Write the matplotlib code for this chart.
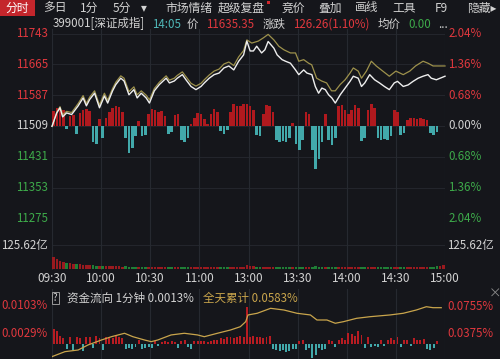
import numpy as np
import matplotlib.pyplot as plt
from matplotlib.patches import Rectangle

plt.rcParams['font.family'] = ['Noto Sans CJK SC', 'DejaVu Sans']

# ---- 数据 ----
prev_close = 11509.09
price_ticks = [11743, 11665, 11587, 11509, 11431, 11353, 11275]
pct_labels = ['2.04%', '1.36%', '0.68%', '0.00%', '0.68%', '1.36%', '2.04%']
time_pos = [0, 30, 60, 90, 120, 150, 180, 210, 240]
time_labels = ['09:30', '10:00', '10:30', '11:00', '13:00', '13:30', '14:00', '14:30', '15:00']

# 指数 (白线), 分钟数从 09:30 起
white_min = [0, 2.9, 4.9, 6.5, 8.9, 12, 16, 19, 21, 23, 26, 29, 32, 34, 37, 39, 42, 44, 47, 50,
             52, 54.5, 57.5, 59.5, 62.5, 65.6, 69.7, 71.7, 74.7, 76.5, 79.6, 81.8, 84.9, 87.9, 91,
             93, 96, 99, 102, 105, 108, 111, 114, 117, 119, 121, 123, 125, 128, 130, 132, 135.5,
             137.5, 140.5, 142.6, 145.6, 148.7, 150.7, 153.7, 155.7, 158.7, 160.8, 162.8, 164.8,
             166.9, 168.9, 170.9, 173, 176, 179, 182, 184, 187, 189, 191, 194, 197, 200, 203, 206,
             209, 211, 214.5, 217.5, 220.5, 223.6, 226.6, 229.6, 231.6, 234.7, 240]
white_px = [11508, 11542, 11555, 11532, 11542, 11538, 11560, 11580, 11560, 11576, 11592, 11555,
            11585, 11567, 11598, 11614, 11630, 11623, 11588, 11601, 11580, 11592, 11580, 11567,
            11598, 11614, 11630, 11618, 11623, 11630, 11639, 11626, 11609, 11601, 11609, 11618,
            11630, 11639, 11643, 11656, 11661, 11651, 11673, 11689, 11724, 11699, 11699, 11711,
            11694, 11702, 11723, 11706, 11689, 11677, 11673, 11668, 11651, 11639, 11651, 11643,
            11639, 11609, 11592, 11605, 11601, 11588, 11580, 11567, 11588, 11605, 11622, 11635,
            11630, 11609, 11618, 11639, 11626, 11618, 11609, 11601, 11618, 11622, 11609, 11613,
            11622, 11630, 11635, 11639, 11630, 11626, 11635]

# 不加权 (黄线)
yel_min = [0, 2.9, 4.9, 6.5, 8.9, 12, 16, 19, 21, 23, 26, 29, 32, 34, 37, 39, 42, 44, 47, 50,
           52, 54.5, 57.5, 59.5, 62.5, 65.6, 69.7, 71.7, 74.7, 76.5, 79.6, 81.8, 84.9, 87.9, 91,
           93, 96, 99, 102, 105, 108, 111, 114, 117, 119, 122, 126, 129, 132, 135.5, 138.5, 141.6,
           145.6, 148.7, 150.7, 153.7, 156.7, 158.6, 161.6, 164.6, 167.7, 170.7, 173, 176, 179,
           182, 184, 187, 189, 192, 195, 198, 202, 206, 210, 214.5, 218.5, 222, 226.6, 229.6,
           232.7, 240]
yel_px = [11508, 11544, 11558, 11537, 11546, 11543, 11566, 11586, 11566, 11582, 11598, 11562,
          11592, 11574, 11604, 11620, 11636, 11630, 11596, 11608, 11588, 11598, 11587, 11575,
          11604, 11620, 11636, 11625, 11630, 11637, 11646, 11634, 11617, 11610, 11617, 11626,
          11638, 11648, 11653, 11666, 11671, 11662, 11684, 11700, 11727, 11719, 11724, 11732,
          11741, 11727, 11711, 11702, 11694, 11694, 11673, 11677, 11668, 11664, 11630, 11623,
          11618, 11598, 11598, 11614, 11626, 11643, 11656, 11648, 11630, 11648, 11673, 11661,
          11648, 11635, 11648, 11639, 11648, 11661, 11673, 11668, 11661, 11661]

# 红绿柱 (每2分钟), 指数点
force = [38, 45, 45, 40, -8, 25, 28, -20, 32, 40, 42, 38, -40, -45, 18, -30, 20, 35, 45, 50,
         48, 35, -30, -68, -55, -25, 12, -25, -22, 30, 42, 40, 35, 38, 25, -20, -15, 28, 30, -35,
         -42, -30, 5, 20, 32, 30, 18, 5, 30, 42, 35, -12, -20, -10, 35, 55, 50, 50, 55, 55,
         50, 40, -22, -25, 30, 52, 50, 35, -35, -42, -38, -40, -30, 8, -45, -60, -35, 35, 30, -60,
         -110, -85, -40, 30, -35, -48, -30, 50, 52, 40, 30, 40, 52, 45, -38, -30, 40, 55, 45, -30,
         -35, -32, -35, -25, 40, 35, -22, -18, 15, 20, 20, 18, 20, 18, 15, -18, -22, -15, 0, 0]

# 成交额 (每2分钟, 亿)
volume = [62, 50, 44, 38, 33, 30, 28, 26, 24, 22, 20, 21, 19, 18, 17, 18, 16, 15, 16, 14,
          15, 13, 14, 12, 13, 12, 11, 12, 11, 10, 11, 10, 12, 10, 9, 10, 11, 9, 10, 9,
          9, 10, 8, 9, 10, 9, 8, 9, 10, 9, 8, 9, 10, 9, 11, 12, 10, 11, 12, 20,
          16, 14, 12, 13, 11, 12, 10, 11, 10, 9, 10, 9, 10, 11, 9, 10, 12, 9, 10, 13,
          14, 11, 10, 9, 10, 9, 8, 10, 9, 9, 8, 9, 10, 8, 9, 8, 9, 10, 8, 9,
          8, 9, 8, 9, 10, 9, 8, 9, 8, 9, 9, 10, 9, 10, 11, 10, 12, 14, 18, 22]
vol_max = 125.62

# 资金流向 1分钟 (单位 0.0001%)
flow = [40, 35, 22, 15, -12, 18, -15, 20, 15, -18, 18, 20, -10, 22, 15, -15, 18, 20, 15, 22,
        18, 15, -12, -10, -14, -8, 10, -12, -10, -8, -10, 8, -6, 5, 8, 6, 8, 6, -10, 8,
        10, -8, -12, 8, 7, 9, 8, 6, 8, 10, 12, 15, 14, 18, 20, 15, 18, 22, 20, 100,
        20, 22, 18, 20, 15, 18, 22, -12, -15, -18, -16, -20, -18, -14, -12, 8, 10, -15, -10, -38,
        -30, -10, -15, -12, 10, 8, -8, 12, 15, 10, 30, 28, 22, 35, 25, -10, 18, -8, -6, -8,
        10, -6, 12, 15, 10, 18, -8, 10, 12, -6, 15, 12, 10, 14, -12, -15, -10, 8, 0, 0]
flow_ticks = [103, 29]
flow_tick_labels = ['0.0103%', '0.0029%']

# 全天累计 (%)
cum_min = [0, 7.9, 16, 22, 30.2, 36.3, 44.3, 49.4, 56.5, 60.6, 64.6, 72.7, 80.8, 88.9, 93, 101,
           109, 115, 118.3, 119.7, 125.3, 133.5, 141.6, 149.6, 157.8, 161.8, 167.9, 173, 178,
           186, 194.2, 206.4, 214.5, 222.5, 228.6, 232.7, 237.7]
cum_val = [0.0041, 0.0112, 0.0136, 0.0208, 0.0279, 0.0326, 0.0375, 0.0326, 0.0279, 0.0255,
           0.0279, 0.0351, 0.0375, 0.0351, 0.0326, 0.0375, 0.0422, 0.0469, 0.0541, 0.0637,
           0.0661, 0.0732, 0.0708, 0.0661, 0.0637, 0.0565, 0.0565, 0.0518, 0.0541, 0.0589,
           0.0612, 0.0637, 0.0661, 0.0708, 0.0755, 0.0741, 0.0741]
cum_ticks = [0.0755, 0.0375]
cum_tick_labels = ['0.0755%', '0.0375%']

# ---- 颜色 ----
BG = '#15161b'
GRID = '#262930'
RED = '#e0383e'
GREEN = '#3daa4a'
BAR_RED = '#b0191e'
BAR_TEAL = '#42a9ab'
TXT = '#d2d2d2'
GOLD = '#c9a54c'

W, H = 500, 359


def rect(x0, y0, x1, y1):
    return [x0 / W, 1 - y1 / H, (x1 - x0) / W, (y1 - y0) / H]


def ftext(x, y, s, **kw):
    kw.setdefault('color', TXT)
    kw.setdefault('fontsize', 8.3)
    kw.setdefault('va', 'center')
    fig.text(x / W, 1 - y / H, s, **kw)


def clean(ax):
    ax.set_facecolor('none')
    for sp in ax.spines.values():
        sp.set_visible(False)
    ax.set_xticks([])
    ax.set_yticks([])
    ax.set_xlim(0, 240)


fig = plt.figure(figsize=(5, 3.59), dpi=100, facecolor=BG)

# 竖网格
ax_g = fig.add_axes(rect(52, 29, 445, 270))
clean(ax_g)
ax_g2 = fig.add_axes(rect(52, 289, 445, 359))
clean(ax_g2)
for t in time_pos:
    ax_g.axvline(t, color=GRID, lw=0.8)
    ax_g2.axvline(t, color=GRID, lw=0.8)

# 主图
ax = fig.add_axes(rect(52, 33.6, 445, 218.3))
clean(ax)
ax.set_ylim(price_ticks[-1], price_ticks[0])
for p in price_ticks:
    ax.axhline(p, color=GRID, lw=0.6, zorder=0)
centers = np.arange(len(force)) * 2 + 1
force = np.array(force)
ax.bar(centers, force, width=1.6, bottom=prev_close,
       color=np.where(force >= 0, BAR_RED, BAR_TEAL), linewidth=0, zorder=1)
ax.plot(yel_min, yel_px, color='#9d914c', lw=0.9, zorder=2, clip_on=False)
ax.plot(white_min, white_px, color='#eeeeee', lw=1.0, zorder=3, clip_on=False)

ytr = ax.get_yaxis_transform()
for i, p in enumerate(price_ticks):
    c = RED if p > 11509 else (GREEN if p < 11509 else TXT)
    ax.text(-0.011, p, str(p), transform=ytr, ha='right', va='center', color=c, fontsize=8.3)
    ax.text(1.008, p, pct_labels[i], transform=ytr, ha='left', va='center', color=c, fontsize=8.3)

# 成交量
ax_v = fig.add_axes(rect(52, 245, 445, 269))
clean(ax_v)
ax_v.set_ylim(0, vol_max)
ax_v.axhline(vol_max, color=GRID, lw=0.6)
ax_v.bar(centers, volume, width=1.6, color=np.where(force >= 0, '#9a1a1f', '#1f7f36'), linewidth=0)
vtr = ax_v.get_yaxis_transform()
ax_v.text(-0.011, vol_max, '125.62亿', transform=vtr, ha='right', va='center', color=TXT, fontsize=8.3)
ax_v.text(1.005, vol_max, '125.62亿', transform=vtr, ha='left', va='center', color=TXT, fontsize=8.3)
xtr = ax_v.get_xaxis_transform()
for t, lab in zip(time_pos, time_labels):
    ax_v.text(t, -0.38, lab, transform=xtr, ha='center', va='center', color=TXT, fontsize=8.5)

# 资金流向
ax_f = fig.add_axes(rect(52, 290, 445, 359))
clean(ax_f)
ax_f.set_ylim(-40, 145)
flow = np.array(flow)
ax_f.bar(centers, flow, width=1.2, color=np.where(flow >= 0, '#b81c22', BAR_TEAL), linewidth=0)
ftr = ax_f.get_yaxis_transform()
for v, lab in zip(flow_ticks, flow_tick_labels):
    ax_f.text(-0.011, v, lab, transform=ftr, ha='right', va='center', color=RED, fontsize=8.3)
ax_c = ax_f.twinx()
clean(ax_c)
ax_c.set_ylim(0.0007, 0.0994)
ax_c.plot(cum_min, cum_val, color=GOLD, lw=0.9)
ctr = ax_c.get_yaxis_transform()
for v, lab in zip(cum_ticks, cum_tick_labels):
    ax_c.text(1.005, v, lab, transform=ctr, ha='left', va='center', color=RED, fontsize=8.3)

# 顶部工具栏
fig.patches.append(Rectangle((0, 1 - 16 / H), 35 / W, 16 / H, transform=fig.transFigure,
                             facecolor='#c4262c', edgecolor='none'))
ftext(17.5, 8, '分时', ha='center', color='white', fontsize=8.5)
for x, s in [(43, '多日'), (80, '1分'), (113, '5分'), (141, '▾'), (165, '市场情绪'),
             (218, '超级复盘'), (282, '竞价'), (318, '叠加'), (355, '画线'), (392, '工具'),
             (435, 'F9'), (467, '隐藏▸')]:
    ftext(x, 8, s, fontsize=8.5)
fig.patches.append(Rectangle((267 / W, 1 - 4 / H), 3 / W, 3 / H, transform=fig.transFigure,
                             facecolor='#d0262c', edgecolor='none'))

# 第二行行情
ftext(53, 24, '399001[深证成指]')
ftext(152, 24, '14:05', color='#4fb8b8')
ftext(187, 24, '价')
ftext(206, 24, '11635.35', color=RED)
ftext(263, 24, '涨跌')
ftext(293, 24, '126.26(1.10%)', color=RED)
ftext(378, 24, '均价')
ftext(408, 24, '0.00', color=GREEN)
ftext(438, 24, '...')

# 资金流向标题
ftext(53, 298, '?', fontsize=7, color=TXT,
      bbox=dict(boxstyle='square,pad=0.12', facecolor='none', edgecolor='#9a9a9a', lw=0.7))
ftext(67, 298, '资金流向 1分钟 0.0013%')
ftext(203, 298, '全天累计 0.0583%', color=GOLD)
ftext(489, 294, '×', color='#8a8a8a', fontsize=9)

fig.savefig('out.png', dpi=100, facecolor=BG)
